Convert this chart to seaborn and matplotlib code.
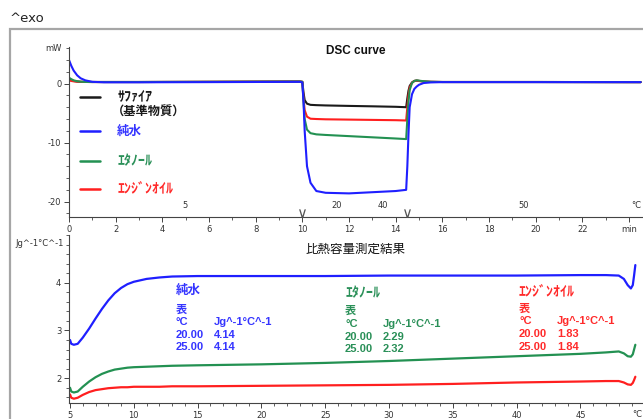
import numpy as np
import pandas as pd
import matplotlib
matplotlib.use("Agg")
import matplotlib.pyplot as plt
import matplotlib.transforms as mtransforms
from matplotlib.patches import Rectangle
from matplotlib.lines import Line2D
from matplotlib.ticker import MultipleLocator, FixedLocator
import seaborn as sns

# ---------------- data ----------------
series_names = ["ｻﾌｧｲｱ", "純水", "ｴﾀﾉｰﾙ", "ｴﾝｼﾞﾝｵｲﾙ"]
sapphire_sub = "（基準物質）"

dsc_time = [0, 0.1, 0.2, 0.35, 0.5, 0.7, 1.0, 1.5, 3, 6,
            9.9, 10.0, 10.05, 10.1, 10.2, 10.35, 10.6, 11, 12, 13,
            14, 14.45, 14.5, 14.55, 14.6, 14.7, 14.8, 14.9, 15.0, 15.2,
            15.5, 16, 20, 24.5]
dsc_sapphire = [0.7, 0.55, 0.45, 0.35, 0.3, 0.28, 0.27, 0.27, 0.27, 0.3,
                0.35, 0.3, -1.5, -2.8, -3.4, -3.6, -3.65, -3.7, -3.78, -3.85,
                -3.93, -4.0, -2.5, -1.2, -0.4, 0.2, 0.45, 0.5, 0.45, 0.35,
                0.3, 0.27, 0.27, 0.25]
dsc_water = [4.0, 3.0, 2.2, 1.4, 0.9, 0.55, 0.3, 0.22, 0.22, 0.25,
             0.3, 0.2, -3.0, -8.0, -14.0, -16.8, -18.2, -18.5, -18.6, -18.4,
             -18.2, -18.0, -14.0, -8.5, -4.0, -1.8, -0.9, -0.5, -0.2, 0.1,
             0.2, 0.25, 0.25, 0.25]
dsc_ethanol = [1.0, 0.75, 0.55, 0.4, 0.32, 0.28, 0.27, 0.27, 0.27, 0.3,
               0.35, 0.3, -3.0, -6.0, -7.8, -8.4, -8.6, -8.7, -8.9, -9.1,
               -9.3, -9.4, -6.0, -3.0, -1.1, 0.1, 0.45, 0.55, 0.5, 0.4,
               0.3, 0.27, 0.27, 0.25]
dsc_oil = [0.55, 0.45, 0.38, 0.32, 0.3, 0.28, 0.27, 0.27, 0.27, 0.3,
           0.35, 0.3, -2.5, -4.5, -5.6, -5.95, -6.0, -6.05, -6.1, -6.15,
           -6.2, -6.25, -4.0, -2.0, -0.7, 0.15, 0.45, 0.5, 0.45, 0.35,
           0.3, 0.27, 0.27, 0.25]

cp_temp = [5.0, 5.1, 5.3, 5.6, 6.0, 6.5, 7.0, 7.5, 8.0, 8.5,
           9.0, 9.5, 10, 11, 12, 13, 15, 20, 25, 30,
           35, 40, 45, 47, 48, 48.4, 48.7, 48.95, 49.1, 49.2,
           49.3]
cp_water = [2.80, 2.72, 2.70, 2.72, 2.85, 3.04, 3.25, 3.45, 3.63, 3.78,
            3.89, 3.97, 4.02, 4.08, 4.11, 4.13, 4.14, 4.14, 4.14, 4.15,
            4.15, 4.15, 4.16, 4.16, 4.15, 4.08, 3.95, 3.88, 3.95, 4.15,
            4.37]
cp_ethanol = [1.80, 1.72, 1.70, 1.72, 1.82, 1.93, 2.02, 2.09, 2.14, 2.18,
              2.20, 2.22, 2.23, 2.24, 2.25, 2.26, 2.27, 2.29, 2.32, 2.36,
              2.41, 2.46, 2.51, 2.54, 2.56, 2.52, 2.46, 2.45, 2.50, 2.60,
              2.70]
cp_oil = [1.66, 1.59, 1.57, 1.59, 1.65, 1.71, 1.75, 1.77, 1.79, 1.80,
          1.81, 1.81, 1.82, 1.82, 1.82, 1.83, 1.83, 1.84, 1.85, 1.86,
          1.88, 1.91, 1.93, 1.94, 1.94, 1.91, 1.87, 1.86, 1.90, 1.96,
          2.03]

table_temps = ["20.00", "25.00"]
table_water = ["4.14", "4.14"]
table_ethanol = ["2.29", "2.32"]
table_oil = ["1.83", "1.84"]

# temperature labels along the time axis of the DSC curve
seg_temp_times = [4.97, 11.45, 13.47, 19.47, 24.3]
seg_temp_labels = ["5", "20", "40", "50", "°C"]
seg_boundaries = [10.0, 14.5]

min_ticks = [0, 2, 4, 6, 8, 10, 12, 14, 16, 18, 20, 22, 24]
min_ticklabels = ["0", "2", "4", "6", "8", "10", "12", "14", "16", "18", "20", "22", "min"]
temp_ticks = [5, 10, 15, 20, 25, 30, 35, 40, 45]

# ---------------- style ----------------
colors = {"ｻﾌｧｲｱ": "#1a1a1a", "純水": "#1f1fff", "ｴﾀﾉｰﾙ": "#239152", "ｴﾝｼﾞﾝｵｲﾙ": "#ff1f1f"}
text_colors = {"ｻﾌｧｲｱ": "#1a1a1a", "純水": "#3535ff", "ｴﾀﾉｰﾙ": "#2a9058", "ｴﾝｼﾞﾝｵｲﾙ": "#ff2a2a"}
name_sizes = {"ｻﾌｧｲｱ": 10, "純水": 9, "ｴﾀﾉｰﾙ": 10, "ｴﾝｼﾞﾝｵｲﾙ": 10}

sns.set_theme(style="white")
plt.rcParams["font.family"] = ["Liberation Sans", "Noto Sans CJK JP", "DejaVu Sans"]
plt.rcParams["axes.unicode_minus"] = False
JP = ["Noto Sans CJK JP", "DejaVu Sans"]
TICKF = ["DejaVu Sans", "Noto Sans CJK JP"]

W, H = 643, 419
fig = plt.figure(figsize=(W / 100, H / 100), dpi=100)
fig.patch.set_facecolor("white")

# outer grey frame
fig.patches.append(Rectangle((10 / W, -0.2), 1.2, 1.2 - 29 / H, transform=fig.transFigure,
                             fill=False, edgecolor="#a6a6a6", linewidth=1.6, clip_on=False))
fig.text(10 / W, 1 - 18 / H, "^exo", fontsize=9.5, family=TICKF, ha="left", va="center", color="#222222")

ax1 = fig.add_axes([69 / W, 1 - 217 / H, 574 / W, 170 / H])
ax2 = fig.add_axes([69 / W, 1 - 403 / H, 574 / W, 168 / H])

# ---------------- DSC curve ----------------
dsc_df = pd.concat([
    pd.DataFrame({"time": dsc_time, "value": vals, "series": name})
    for name, vals in zip(series_names, [dsc_sapphire, dsc_water, dsc_ethanol, dsc_oil])
])
draw_order = ["ｻﾌｧｲｱ", "ｴﾝｼﾞﾝｵｲﾙ", "ｴﾀﾉｰﾙ", "純水"]
sns.lineplot(data=dsc_df, x="time", y="value", hue="series", hue_order=draw_order,
             palette=colors, estimator=None, sort=False, linewidth=1.5, legend=False, ax=ax1)

ax1.set_xlim(0, 24.6)
ax1.set_ylim(-22.6, 6.2)
ax1.set_xlabel("")
ax1.set_ylabel("")
ax1.yaxis.set_major_locator(FixedLocator([-20, -10, 0]))
ax1.yaxis.set_minor_locator(MultipleLocator(2))
ax1.xaxis.set_major_locator(FixedLocator(min_ticks))
ax1.set_xticklabels(min_ticklabels)
ax1.xaxis.set_minor_locator(MultipleLocator(1))
ax1.text(0.5, 0.975, "DSC curve", transform=ax1.transAxes, ha="center", va="center",
         fontsize=8.5, fontweight="bold", color="#111111")
ax1.text(-0.012, 0.99, "mW", transform=ax1.transAxes, ha="right", va="center",
         fontsize=6, family=TICKF, color="#333333")

trans1 = mtransforms.blended_transform_factory(ax1.transData, ax1.transAxes)
for tt, lab in zip(seg_temp_times, seg_temp_labels):
    ax1.text(tt, 0.068, lab, transform=trans1, ha="center", va="center",
             fontsize=6, family=TICKF, color="#333333")
ax1.scatter(seg_boundaries, [0.025] * len(seg_boundaries), transform=trans1, marker=r"$\vee$",
            s=36, color="#555555", linewidths=0, clip_on=False, zorder=5)

# manual legend
leg_x0, leg_x1, leg_xt = 0.019, 0.054, 0.084
leg_y = [0.706, 0.506, 0.329, 0.165]
for name, yy in zip(series_names, leg_y):
    ax1.add_line(Line2D([leg_x0, leg_x1], [yy, yy], transform=ax1.transAxes,
                        color=colors[name], linewidth=1.8))
    ax1.text(leg_xt, yy, name, transform=ax1.transAxes, ha="left", va="center",
             fontsize=name_sizes[name], family=JP, fontweight="bold", color=text_colors[name])
ax1.text(leg_xt - 0.009, leg_y[0] - 0.09, sapphire_sub, transform=ax1.transAxes, ha="left",
         va="center", fontsize=8.8, family=JP, fontweight="bold", color=text_colors["ｻﾌｧｲｱ"])

# ---------------- specific heat ----------------
cp_df = pd.concat([
    pd.DataFrame({"temp": cp_temp, "cp": vals, "series": name})
    for name, vals in zip(series_names[1:], [cp_water, cp_ethanol, cp_oil])
])
sns.lineplot(data=cp_df, x="temp", y="cp", hue="series", hue_order=["ｴﾝｼﾞﾝｵｲﾙ", "ｴﾀﾉｰﾙ", "純水"],
             palette=colors, estimator=None, sort=False, linewidth=1.6, legend=False, ax=ax2)

ax2.set_xlim(4.92, 49.9)
ax2.set_ylim(1.48, 5.0)
ax2.set_xlabel("")
ax2.set_ylabel("")
ax2.yaxis.set_major_locator(FixedLocator([2, 3, 4]))
ax2.yaxis.set_minor_locator(MultipleLocator(0.2))
ax2.xaxis.set_major_locator(FixedLocator(temp_ticks))
ax2.xaxis.set_minor_locator(MultipleLocator(1))
ax2.text(0.5, 0.917, "比熱容量測定結果", transform=ax2.transAxes, ha="center", va="center",
         fontsize=9, family=JP, color="#111111")
ax2.text(-0.01, 0.952, "Jg^-1°C^-1", transform=ax2.transAxes, ha="right", va="center",
         fontsize=6, family=TICKF, color="#333333")
ax2.text(49.45, -0.07, "°C", transform=mtransforms.blended_transform_factory(ax2.transData, ax2.transAxes),
         ha="center", va="center", fontsize=6, family=TICKF, color="#333333", clip_on=False)

# annotation tables
blocks = [
    ("純水", table_water, 0.1864, 0.2526, [0.673, 0.560, 0.482, 0.405, 0.333]),
    ("ｴﾀﾉｰﾙ", table_ethanol, 0.481, 0.547, [0.655, 0.554, 0.470, 0.395, 0.320]),
    ("ｴﾝｼﾞﾝｵｲﾙ", table_oil, 0.784, 0.850, [0.661, 0.565, 0.488, 0.411, 0.333]),
]
for name, vals, xa, xb, ys in blocks:
    c = text_colors[name]
    kw = dict(transform=ax2.transAxes, ha="left", va="center", color=c, fontweight="bold")
    ax2.text(xa, ys[0], name, fontsize=name_sizes[name], family=JP, **kw)
    ax2.text(xa, ys[1], "表", fontsize=8, family=JP, **kw)
    ax2.text(xa, ys[2], "°C", fontsize=8, **kw)
    ax2.text(xb, ys[2], "Jg^-1°C^-1", fontsize=8, **kw)
    for i, (tt, vv) in enumerate(zip(table_temps, vals)):
        ax2.text(xa, ys[3 + i], tt, fontsize=8, **kw)
        ax2.text(xb, ys[3 + i], vv, fontsize=8, **kw)

for ax in (ax1, ax2):
    for s in ("top", "right"):
        ax.spines[s].set_visible(False)
    for s in ("left", "bottom"):
        ax.spines[s].set_color("#444444")
        ax.spines[s].set_linewidth(0.8)
    ax.tick_params(which="major", direction="out", length=3.5, width=0.7, color="#444444",
                   labelsize=6, labelcolor="#333333", pad=2, left=True, bottom=True)
    ax.tick_params(which="minor", direction="out", length=2.5, width=0.6, color="#444444",
                   left=True, bottom=True)
    for lab in ax.get_xticklabels() + ax.get_yticklabels():
        lab.set_family(TICKF)
    ax.set_facecolor("none")
    ax.grid(False)

fig.savefig("out.png", dpi=100)
